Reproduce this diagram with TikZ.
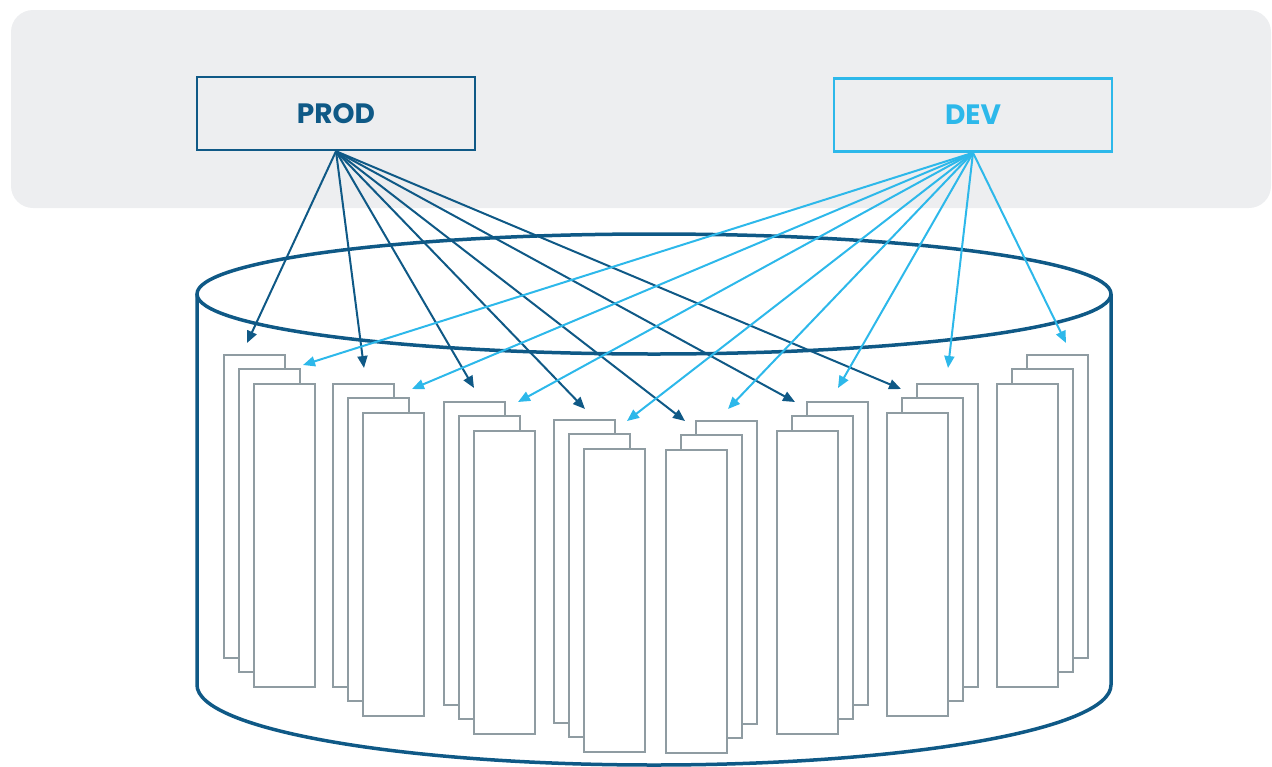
\documentclass[tikz,border=0pt]{standalone}
\usepackage{fontspec}
\newfontfamily\popfont{Poppins}
\usetikzlibrary{arrows.meta}
\definecolor{dkblue}{HTML}{0F5986}
\definecolor{ltblue}{HTML}{2DB8EA}
\definecolor{pagegray}{HTML}{8F9CA2}
\definecolor{panelbg}{HTML}{EDEEF0}
\tikzset{
  envbox/.style={draw, line width=2.5pt, minimum width=278pt, minimum height=73pt, inner sep=0pt,
    font=\popfont\bfseries\fontsize{28}{30}\selectfont},
  prodarrow/.style={draw=dkblue, line width=2pt, -{Triangle[length=12pt,width=10pt]}},
  devarrow/.style={draw=ltblue, line width=2pt, -{Triangle[length=12pt,width=10pt]}},
  page/.style={draw=pagegray, fill=white, line width=2pt},
  cyl/.style={draw=dkblue, line width=3.5pt}
}
\begin{document}
\begin{tikzpicture}[x=1pt,y=-1pt]
\useasboundingbox (0,0) rectangle (1272,766);
% background panel
\fill[panelbg, rounded corners=22pt] (11,10) rectangle (1271,208);
% cylinder body
\draw[cyl] (197,294) -- (197,685) arc[start angle=180,end angle=360,x radius=457,y radius=-80] -- (1111,294);
% page stacks, left half (offsets to the lower right)
\foreach \x/\y in {224/355, 333/384, 444/402, 554/420}{
  \draw[page] (\x,\y) rectangle ++(61,303);
  \draw[page] (\x+15,\y+14) rectangle ++(61,303);
  \draw[page] (\x+30,\y+29) rectangle ++(61,303);
}
% page stacks, right half (offsets to the lower left)
\foreach \x/\y in {1027/355, 917/384, 807/402, 696/421}{
  \draw[page] (\x,\y) rectangle ++(61,303);
  \draw[page] (\x-15,\y+14) rectangle ++(61,303);
  \draw[page] (\x-30,\y+29) rectangle ++(61,303);
}
% cylinder top
\draw[cyl] (654,294) ellipse[x radius=457, y radius=60];
% environment boxes
\node[envbox, draw=dkblue, text=dkblue] (prod) at (336,113.5) {PROD};
\node[envbox, draw=ltblue, text=ltblue] (dev) at (973,115) {DEV};
% arrow targets
\coordinate (p1) at (247,343);
\coordinate (p2) at (364,368);
\coordinate (p3) at (474,388);
\coordinate (p4) at (585,409);
\coordinate (p5) at (685,421);
\coordinate (p6) at (795,402);
\coordinate (p7) at (901,389);
\coordinate (d1) at (303,365);
\coordinate (d2) at (412,389);
\coordinate (d3) at (518,402);
\coordinate (d4) at (627,421);
\coordinate (d5) at (728,409);
\coordinate (d6) at (838,388);
\coordinate (d7) at (948,368);
\coordinate (d8) at (1066,343);
\foreach \t in {p1,p2,p3,p4,p5,p6,p7}{
  \draw[prodarrow] (prod.south) -- (\t);
}
\foreach \t in {d1,d2,d3,d4,d5,d6,d7,d8}{
  \draw[devarrow] (dev.south) -- (\t);
}
\end{tikzpicture}
\end{document}
